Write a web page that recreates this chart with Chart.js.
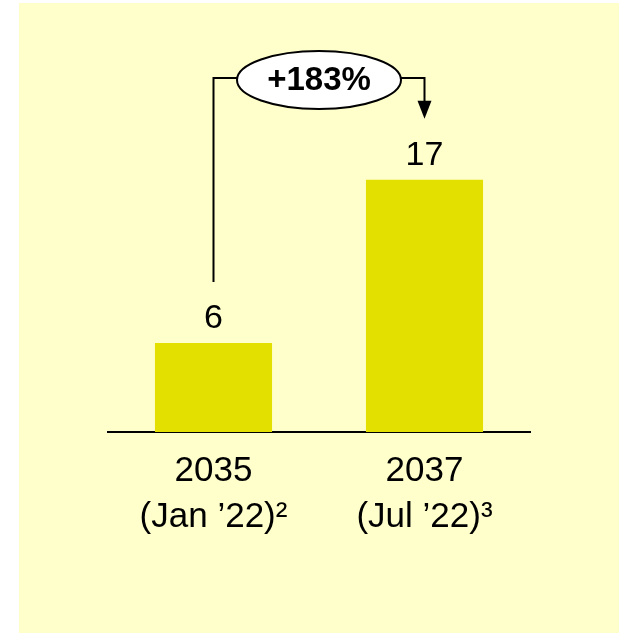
<!DOCTYPE html>
<html>
<head>
<meta charset="utf-8">
<script src="https://cdn.jsdelivr.net/npm/chart.js@4/dist/chart.umd.min.js"></script>
<style>
  html, body { margin: 0; padding: 0; background: #fff; }
  #wrap { width: 619px; height: 634px; position: relative; }
</style>
</head>
<body>
<div id="wrap"><canvas id="myChart"></canvas></div>
<script>
// data
const categories = [["2035", "(Jan \u201922)\u00b2"], ["2037", "(Jul \u201922)\u00b3"]];
const values = [6, 17];
const changeLabel = "+183%";

const FONT = "'Liberation Sans', Arial, sans-serif";

// light yellow panel behind the chart
const panelPlugin = {
    id: 'panel',
    beforeDraw(chart) {
        let c = chart.ctx;
        c.save();
        c.fillStyle = '#FFFFCC';
        c.fillRect(19, 3, chart.width - 19, chart.height - 4);
        c.restore();
    }
};

// value labels over bars and the growth bracket
const labelPlugin = {
    id: 'labels',
    afterDatasetsDraw(chart) {
        let c = chart.ctx;
        let bars = chart.getDatasetMeta(0).data;
        c.save();
        c.fillStyle = '#000';
        c.font = '34px ' + FONT;
        c.textAlign = 'center';
        c.textBaseline = 'bottom';
        bars.forEach(function(b, i){
            c.fillText(values[i], b.x, b.y - 7);
        });

        // bracket
        let x0 = bars[0].x, x1 = bars[1].x;
        let top = chart.chartArea.top + 17;
        let cx = (x0 + x1) / 2;
        c.strokeStyle = '#000';
        c.lineWidth = 2;
        c.beginPath();
        c.moveTo(x0, bars[0].y - 61);
        c.lineTo(x0, top);
        c.lineTo(x1, top);
        c.lineTo(x1, bars[1].y - 78);
        c.stroke();
        // arrow head
        c.beginPath();
        c.moveTo(x1 - 7, bars[1].y - 79);
        c.lineTo(x1 + 7, bars[1].y - 79);
        c.lineTo(x1, bars[1].y - 61);
        c.closePath();
        c.fill();
        // ellipse
        c.beginPath();
        c.ellipse(cx, top + 2, 82, 29, 0, 0, Math.PI * 2);
        c.fillStyle = '#fff';
        c.fill();
        c.stroke();
        c.fillStyle = '#000';
        c.font = 'bold 33px ' + FONT;
        c.textBaseline = 'middle';
        c.fillText(changeLabel, cx, top + 3);
        c.restore();
    }
};

new Chart(document.getElementById('myChart'), {
    type: 'bar',
    data: {
        labels: categories,
        datasets: [{
            data: values,
            backgroundColor: '#E3E000',
            borderWidth: 0,
            barPercentage: 0.555,
            categoryPercentage: 1.0
        }]
    },
    options: {
        responsive: true,
        maintainAspectRatio: false,
        animation: false,
        events: [],
        layout: { padding: { left: 108, right: 89, top: 61, bottom: 0 } },
        plugins: { legend: { display: false }, tooltip: { enabled: false } },
        scales: {
            x: {
                grid: { display: false },
                border: { display: true, color: '#000', width: 2 },
                ticks: {
                    color: '#000',
                    padding: 8,
                    maxRotation: 0,
                    font: { family: FONT, size: 35, lineHeight: 1.33 }
                },
                afterFit: function(scale){ scale.height = 202; }
            },
            y: {
                display: false,
                min: 0,
                max: 25
            }
        }
    },
    plugins: [panelPlugin, labelPlugin]
});
</script>
</body>
</html>
